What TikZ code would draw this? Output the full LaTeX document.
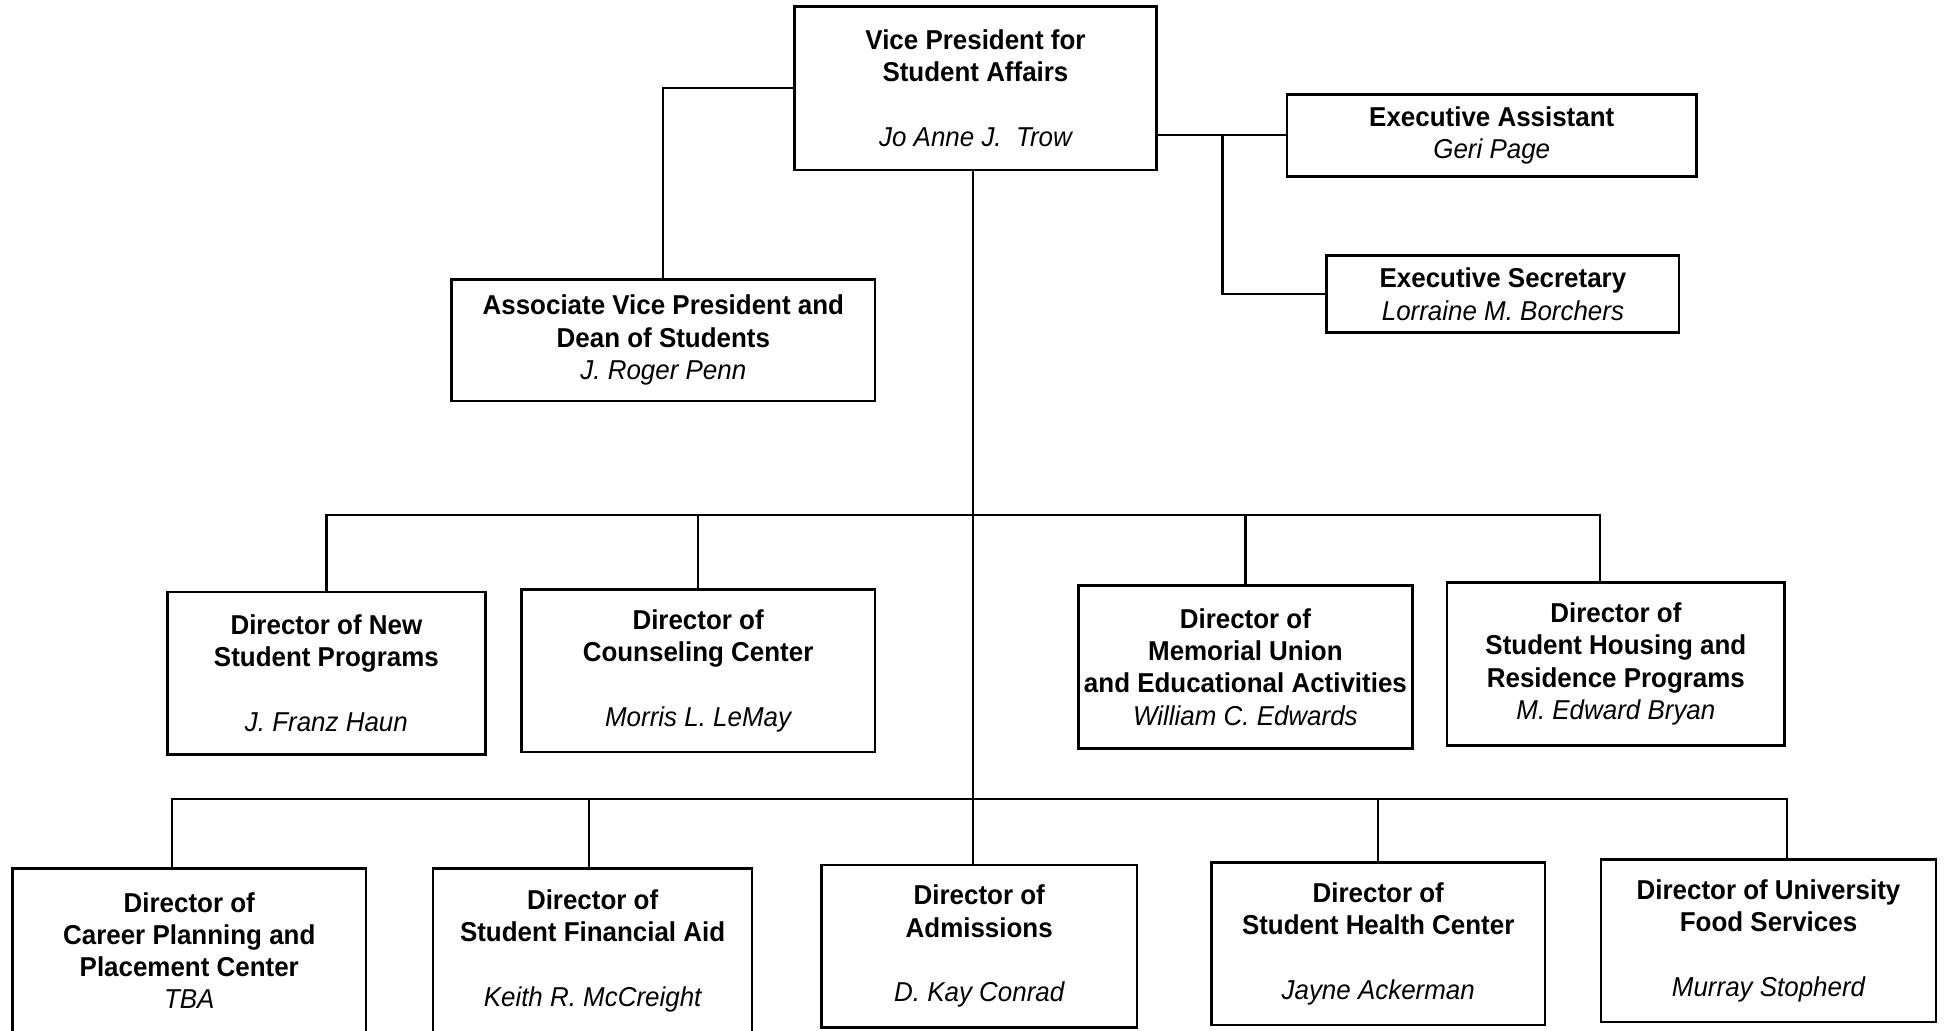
\documentclass[tikz,border=0pt]{standalone}
\usepackage{fontspec}
\setmainfont{Liberation Sans}[FakeStretch=0.95]
\usetikzlibrary{positioning}
\newcommand{\who}[1]{{\mdseries\itshape #1}}

\begin{document}
\begin{tikzpicture}[x=1pt,y=-1pt,line width=1.8pt,
  office/.style={draw,line width=2.1pt,inner sep=0pt,align=center,
    minimum height=131,font=\fontsize{22}{26}\selectfont\bfseries}]
\useasboundingbox (0,0) rectangle (1568,830);
% top level
\node[office,minimum width=292,minimum height=132] (vp) at (786,71)
  {Vice President for\\Student Affairs\\[26pt]\who{Jo Anne J.\ \ Trow}};
\node[office,minimum width=341,minimum height=98] (avp) at (534.5,274)
  {Associate Vice President and\\Dean of Students\\\who{J. Roger Penn}};
\node[office,minimum width=330,minimum height=66] (ea) at (1202,109)
  {Executive Assistant\\\who{Geri Page}};
\node[office,minimum width=284,minimum height=62] (es) at (1211,237)
  {Executive Secretary\\\who{Lorraine M. Borchers}};
% first row
\node[office,minimum width=256] (nsp) at (263,542.5)
  {Director of New\\Student Programs\\[26pt]\who{J. Franz Haun}};
\node[office,minimum width=285] (cc) at (562.5,540.5)
  {Director of\\Counseling Center\\[26pt]\who{Morris L. LeMay}};
\node[office,minimum width=269] (mu) at (1003.5,537.5)
  {Director of\\Memorial Union\\and Educational Activities\\\who{William C. Edwards}};
\node[office,minimum width=272] (sh) at (1302,535)
  {Director of\\Student Housing and\\Residence Programs\\\who{M. Edward Bryan}};
% second row
\node[office,minimum width=285,minimum height=132] (cp) at (152.5,766)
  {Director of\\Career Planning and\\Placement Center\\\who{TBA}};
\node[office,minimum width=257,minimum height=132] (fa) at (477.5,766)
  {Director of\\Student Financial Aid\\[26pt]\who{Keith R. McCreight}};
\node[office,minimum width=254] (ad) at (789,762.5)
  {Director of\\Admissions\\[26pt]\who{D. Kay Conrad}};
\node[office,minimum width=269] (hc) at (1110.5,760.5)
  {Director of\\Student Health Center\\[26pt]\who{Jayne Ackerman}};
\node[office,minimum width=270] (fs) at (1425,758)
  {Director of University\\Food Services\\[26pt]\who{Murray Stopherd}};
% connectors
\coordinate (sj) at (985,109);
\coordinate (b1) at (784,415);
\coordinate (b2) at (784,644);
\draw (vp.west) -| (avp.north);
\draw (ea.west) -- (ea.west -| vp.east);
\draw (sj) |- (es.west);
\draw ([xshift=-2pt]vp.south) -- ([xshift=-2pt]vp.south |- ad.north);
\draw (nsp.north) |- (b1) -| ([xshift=-13pt]sh.north);
\draw (cc.north) |- (b1);
\draw (mu.north) |- (b1);
\draw ([xshift=-14pt]cp.north) |- (b2) -| ([xshift=15pt]fs.north);
\draw ([xshift=-3pt]fa.north) |- (b2);
\draw (hc.north) |- (b2);
\end{tikzpicture}
\end{document}
